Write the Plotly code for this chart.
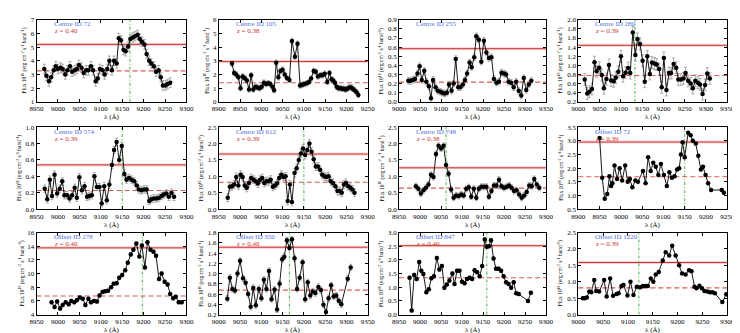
import plotly.graph_objects as go
from plotly.subplots import make_subplots

# ---- values ----
wave_c72 = [8968, 8973, 8979, 8984, 8990, 8995, 9000, 9006, 9011, 9017, 9022, 9028, 9033, 9039, 9044,
            9049, 9055, 9060, 9066, 9071, 9077, 9082, 9088, 9093, 9098, 9104, 9109, 9115, 9120, 9126,
            9131, 9137, 9142, 9147, 9153, 9158, 9164, 9169, 9175, 9180, 9186, 9191, 9196, 9202, 9207,
            9213, 9218, 9224, 9229, 9235, 9240, 9245, 9251, 9256, 9262]
flux_c72 = [3.4, 2.9, 2.5, 2.8, 3.3, 3.6, 3.4, 3.5, 3.4, 3.0, 3.3, 3.6, 3.2, 3.3, 3.4,
            3.7, 3.5, 3.1, 3.3, 3.3, 3.6, 3.3, 2.5, 2.7, 3.4, 3.3, 3.0, 3.4, 4.0, 3.3,
            4.0, 3.8, 5.65, 5.5, 4.8, 4.7, 5.05, 5.6, 5.7, 5.8, 5.9, 5.6, 5.4, 5.2, 4.5,
            4.0, 3.8, 3.6, 3.2, 3.3, 2.8, 2.2, 2.2, 2.3, 2.4]

wave_c105 = [8931, 8936, 8941, 8946, 8951, 8956, 8961, 8966, 8971, 8976, 8981, 8986, 8991, 8996, 9001,
             9006, 9011, 9016, 9021, 9026, 9030, 9035, 9040, 9045, 9050, 9055, 9060, 9066, 9072, 9079,
             9085, 9091, 9096, 9101, 9107, 9112, 9117, 9123, 9128, 9133, 9139, 9144, 9149, 9155, 9160,
             9165, 9169, 9173, 9177, 9181, 9186, 9190, 9194, 9198, 9202, 9207, 9211, 9215, 9219, 9224, 9228]
flux_c105 = [2.8, 2.1, 2.0, 1.8, 1.0, 1.85, 1.75, 1.55, 0.9, 1.95, 0.9, 1.1, 1.05, 1.0, 1.1,
             1.4, 1.3, 1.35, 1.3, 1.1, 0.85, 2.85, 1.8, 2.25, 2.35, 2.0, 1.75, 1.6, 4.45, 3.3,
             4.25, 1.2, 1.25, 1.3, 1.35, 1.45, 1.7, 2.25, 2.2, 1.85, 1.95, 1.95, 2.05, 1.45, 2.1,
             1.65, 1.55, 1.4, 1.1, 1.0, 1.0, 0.95, 0.95, 0.9, 0.95, 1.05, 1.05, 0.95, 0.85, 0.7, 0.5]

wave_c255 = [9022, 9027, 9033, 9038, 9044, 9049, 9054, 9060, 9065, 9071, 9076, 9081, 9087, 9092, 9098,
             9103, 9108, 9114, 9119, 9125, 9130, 9135, 9141, 9146, 9152, 9157, 9162, 9168, 9173, 9179,
             9184, 9190, 9196, 9202, 9208, 9214, 9220, 9226, 9232, 9238, 9244, 9250, 9255, 9261, 9267,
             9273, 9279, 9285, 9291, 9297, 9303, 9309, 9315]
flux_c255 = [0.23, 0.23, 0.24, 0.25, 0.31, 0.39, 0.24, 0.34, 0.22, 0.17, 0.04, 0.24, 0.16, 0.12, 0.11,
             0.10, 0.09, 0.10, 0.19, 0.12, 0.20, 0.47, 0.16, 0.16, 0.19, 0.24, 0.31, 0.43, 0.38, 0.49,
             0.72, 0.68, 0.44, 0.67, 0.54, 0.48, 0.49, 0.25, 0.21, 0.22, 0.32, 0.31, 0.30, 0.22, 0.21,
             0.16, 0.22, 0.12, 0.07, 0.26, 0.13, 0.19, 0.23]

wave_c280 = [9015, 9021, 9026, 9032, 9038, 9043, 9049, 9055, 9060, 9066, 9072, 9077, 9083, 9088, 9094,
             9100, 9105, 9111, 9117, 9122, 9128, 9134, 9139, 9145, 9151, 9156, 9162, 9168, 9173, 9179,
             9184, 9190, 9196, 9201, 9207, 9213, 9218, 9224, 9230, 9235, 9241, 9247, 9252, 9258, 9264,
             9269, 9275, 9281, 9286, 9292, 9298, 9303, 9309]
flux_c280 = [0.69, 0.38, 0.42, 0.48, 1.07, 0.87, 0.95, 0.79, 0.50, 0.70, 1.01, 0.67, 0.65, 0.73, 0.86,
             1.20, 0.76, 0.84, 0.94, 0.83, 1.72, 1.23, 1.58, 1.47, 1.10, 0.64, 1.20, 0.81, 1.06, 1.04,
             1.02, 0.92, 0.52, 1.16, 0.46, 0.83, 0.83, 1.03, 0.95, 0.69, 0.69, 0.71, 0.83, 0.66, 0.60,
             0.50, 0.66, 0.62, 0.58, 0.37, 0.57, 0.82, 0.71]

wave_c574 = [8969, 8975, 8981, 8986, 8992, 8998, 9004, 9010, 9015, 9021, 9027, 9033, 9039, 9044, 9050,
             9056, 9062, 9068, 9073, 9079, 9085, 9091, 9097, 9102, 9108, 9114, 9120, 9126, 9131, 9137,
             9143, 9149, 9155, 9160, 9166, 9172, 9178, 9184, 9189, 9195, 9201, 9207, 9213, 9218, 9224,
             9230, 9236, 9242, 9247, 9253, 9259, 9265, 9271]
flux_c574 = [0.25, 0.12, 0.36, 0.16, 0.42, 0.19, 0.25, 0.34, 0.17, 0.17, 0.13, 0.17, 0.26, 0.14, 0.39,
             0.23, 0.28, 0.15, 0.16, 0.17, 0.40, 0.27, 0.27, 0.07, 0.28, 0.11, 0.30, 0.54, 0.72, 0.82,
             0.60, 0.77, 0.43, 0.36, 0.38, 0.36, 0.34, 0.29, 0.24, 0.23, 0.24, 0.24, 0.10, 0.12, 0.13,
             0.13, 0.14, 0.16, 0.18, 0.19, 0.15, 0.20, 0.15]

wave_c612 = [8971, 8976, 8981, 8986, 8991, 8996, 9001, 9006, 9011, 9016, 9021, 9026, 9032, 9037, 9042,
             9047, 9052, 9057, 9062, 9067, 9072, 9077, 9082, 9087, 9092, 9097, 9102, 9107, 9112, 9117,
             9122, 9128, 9133, 9138, 9143, 9148, 9153, 9158, 9163, 9168, 9173, 9178, 9183, 9188, 9193,
             9198, 9203, 9208, 9213, 9218, 9224, 9229, 9234, 9239, 9244, 9249, 9254, 9259, 9264, 9269]
flux_c612 = [0.35, 0.68, 0.70, 0.75, 0.98, 0.72, 1.05, 0.98, 0.72, 0.65, 0.80, 0.95, 0.90, 0.85, 0.78,
             0.90, 0.95, 0.80, 0.85, 0.85, 0.90, 0.68, 0.72, 0.78, 0.95, 1.05, 0.98, 1.00, 0.25, 0.75,
             0.22, 1.10, 1.25, 1.50, 1.70, 1.85, 1.65, 1.80, 2.00, 1.75, 1.52, 1.30, 1.30, 1.20, 1.05,
             1.00, 0.98, 1.00, 0.85, 0.80, 0.70, 0.55, 0.55, 0.50, 0.75, 0.80, 0.70, 0.65, 0.60, 0.50]

wave_c748 = [8990, 8996, 9002, 9008, 9014, 9020, 9026, 9032, 9038, 9044, 9050, 9056, 9062, 9068, 9074,
             9080, 9086, 9092, 9098, 9104, 9110, 9116, 9122, 9128, 9134, 9140, 9146, 9152, 9158, 9164,
             9170, 9176, 9182, 9188, 9194, 9200, 9206, 9212, 9218, 9224, 9230, 9236, 9242, 9248, 9254,
             9260, 9266, 9272, 9278, 9284]
flux_c748 = [0.70, 0.62, 0.48, 0.58, 0.65, 0.75, 1.05, 0.98, 1.68, 1.93, 1.85, 1.93, 1.35, 1.08, 0.60,
             0.35, 0.42, 0.40, 0.45, 0.42, 0.62, 0.67, 0.38, 0.62, 0.35, 0.62, 0.68, 0.68, 0.68, 0.38,
             0.55, 0.72, 0.72, 0.90, 0.70, 0.65, 0.68, 0.72, 0.65, 0.55, 0.58, 0.45, 0.35, 0.42, 0.52,
             0.72, 0.70, 0.92, 0.75, 0.65]

wave_o72 = [8950, 8956, 8962, 8968, 8973, 8977, 8980, 8985, 8991, 8997, 9003, 9010, 9016, 9021, 9027,
            9034, 9040, 9052, 9058, 9064, 9070, 9076, 9082, 9088, 9094, 9101, 9108, 9114, 9120, 9126,
            9132, 9137, 9141, 9145, 9150, 9158, 9164, 9169, 9176, 9182, 9188, 9193, 9199, 9205, 9212,
            9237, 9242]
flux_o72 = [3.1, 1.65, 0.88, 1.05, 1.7, 1.35, 1.45, 2.1, 1.6, 2.0, 1.55, 2.1, 1.5, 1.6, 1.3,
            1.55, 1.5, 1.9, 1.45, 2.4, 1.9, 2.2, 2.05, 1.75, 2.15, 1.75, 1.35, 1.85, 1.65, 1.7,
            1.95, 2.0, 2.5, 2.95, 2.4, 3.3, 3.2, 3.0, 2.9, 2.45, 1.95, 2.05, 1.75, 1.45, 1.2,
            1.2, 1.1]

wave_o278 = [8985, 8992, 8998, 9005, 9011, 9018, 9025, 9031, 9038, 9044, 9051, 9058, 9064, 9071, 9077,
             9084, 9091, 9097, 9104, 9110, 9117, 9124, 9130, 9137, 9143, 9150, 9157, 9163, 9170, 9176,
             9183, 9190, 9196, 9203, 9209, 9216, 9223, 9229, 9236, 9242, 9249, 9256, 9262, 9269, 9275,
             9282, 9289]
flux_o278 = [5.8, 5.1, 5.9, 4.9, 5.4, 5.8, 5.5, 6.0, 5.8, 6.1, 6.5, 6.3, 5.4, 6.3, 5.8,
             6.0, 5.9, 6.8, 7.3, 7.4, 7.5, 8.0, 8.5, 8.6, 9.4, 9.8, 10.5, 11.6, 12.8, 13.5,
             14.4, 12.5, 14.1, 10.9, 14.6, 13.5, 13.2, 12.6, 9.2, 10.0, 8.8, 8.4, 7.0, 6.4, 6.6,
             5.8, 5.8]

wave_o350 = [9020, 9026, 9032, 9038, 9044, 9050, 9057, 9063, 9069, 9075, 9081, 9087, 9094, 9100, 9106,
             9112, 9118, 9124, 9131, 9137, 9143, 9149, 9154, 9160, 9166, 9172, 9178, 9184, 9190, 9197,
             9203, 9209, 9215, 9221, 9227, 9234, 9240, 9246, 9252, 9258, 9264, 9270, 9276, 9282, 9288,
             9303, 9310]
flux_o350 = [0.51, 0.92, 0.70, 0.67, 1.00, 1.25, 0.91, 0.82, 0.60, 0.35, 0.72, 0.38, 0.70, 0.52, 0.88,
             0.70, 1.05, 0.50, 0.69, 0.30, 0.80, 1.28, 1.33, 1.65, 1.50, 1.67, 1.30, 0.70, 0.92, 1.22,
             0.50, 0.83, 0.57, 0.65, 0.62, 0.74, 0.68, 0.39, 0.25, 0.52, 0.77, 0.55, 0.57, 0.47, 0.40,
             0.90, 1.12]

wave_o847 = [8975, 8980, 8986, 8992, 8998, 9003, 9008, 9015, 9021, 9027, 9033, 9040, 9046, 9052, 9058,
             9064, 9070, 9077, 9082, 9088, 9094, 9100, 9106, 9112, 9118, 9124, 9130, 9136, 9142, 9148,
             9154, 9159, 9164, 9169, 9175, 9181, 9187, 9193, 9199, 9205, 9211, 9217, 9223, 9229, 9235,
             9257, 9264]
flux_o847 = [1.35, 0.15, 1.45, 1.30, 1.92, 1.60, 1.48, 0.82, 0.93, 1.33, 1.40, 2.07, 1.65, 1.78, 0.98,
             1.10, 1.25, 1.50, 1.12, 1.60, 1.60, 1.20, 1.15, 1.30, 1.35, 1.30, 1.62, 1.55, 1.40, 1.78,
             2.75, 2.48, 2.50, 2.72, 2.05, 1.68, 1.68, 1.60, 1.40, 1.18, 1.12, 0.98, 1.18, 0.78, 0.75,
             0.50, 0.80]

wave_o1220 = [9009, 9013, 9017, 9022, 9026, 9032, 9036, 9042, 9052, 9057, 9064, 9070, 9077, 9081, 9087,
              9091, 9099, 9105, 9111, 9118, 9125, 9130, 9135, 9140, 9146, 9151, 9156, 9162, 9170, 9176,
              9183, 9189, 9196, 9203, 9209, 9216, 9223, 9228, 9234, 9238, 9244, 9249, 9254, 9260, 9265,
              9270, 9275, 9290, 9298]
flux_o1220 = [0.50, 0.50, 0.52, 0.70, 0.68, 1.05, 0.72, 0.70, 1.05, 0.55, 1.10, 0.57, 0.63, 0.65, 0.87,
              0.90, 0.58, 1.00, 0.60, 0.85, 0.83, 0.87, 0.87, 0.87, 1.10, 1.00, 1.22, 1.30, 1.65, 1.90,
              1.80, 2.10, 1.80, 1.50, 1.25, 1.22, 1.35, 1.32, 0.85, 0.80, 0.88, 0.80, 0.72, 0.70, 0.68,
              0.68, 0.65, 0.38, 0.62]

names = ["Centre ID 72", "Centre ID 105", "Centre ID 255", "Centre ID 280",
         "Centre ID 574", "Centre ID 612", "Centre ID 748", "Offset ID 72",
         "Offset ID 278", "Offset ID 350", "Offset ID 847", "Offset ID 1220"]
redshifts = ["0.40", "0.38", None, "0.39", "0.39", "0.39", "0.38", "0.39",
             "0.40", "0.40", "0.40", "0.39"]
upper_level = [5.2, 2.95, 0.583, 1.44, 0.54, 1.68, 1.26, 2.955, 13.76, 1.514, 2.52, 1.587]
lower_level = [3.26, 1.39, 0.216, 0.776, 0.228, 0.82, 0.64, 1.686, 6.71, 0.676, 1.345, 0.813]
line_centre = [9168, None, None, 9133, 9150, 9150, 9062, 9150, 9197, 9166, 9159, 9122]
flux_err = [0.35, 0.2, 0.035, 0.13, 0.045, 0.12, 0.09, 0, 0.25, 0.06, 0.06, 0]

spectra = [(wave_c72, flux_c72), (wave_c105, flux_c105), (wave_c255, flux_c255), (wave_c280, flux_c280),
           (wave_c574, flux_c574), (wave_c612, flux_c612), (wave_c748, flux_c748), (wave_o72, flux_o72),
           (wave_o278, flux_o278), (wave_o350, flux_o350), (wave_o847, flux_o847), (wave_o1220, flux_o1220)]

x_ranges = [(8950, 9300), (8900, 9250), (9000, 9350), (9000, 9350),
            (8950, 9300), (8950, 9300), (8950, 9300), (8900, 9250),
            (8950, 9300), (9000, 9350), (8950, 9300), (9000, 9300)]
y_ranges = [(1, 7), (0, 6), (0, 0.9), (0.2, 2.0),
            (0, 1.0), (0, 2.5), (0, 2.5), (0.5, 3.5),
            (4, 16), (0.2, 1.8), (0, 3.0), (0, 2.5)]
y_steps = [1, 1, 0.1, 0.2, 0.2, 0.5, 0.5, 0.5, 2, 0.2, 0.5, 0.5]

# ---- layout in pixels (740 x 333 page) ----
W, H = 740, 333
cols_px = [(22, 175), (208, 360), (392, 542), (575, 727)]
rows_px = [(8, 92), (118, 202), (226, 310)]

serif = "Liberation Serif"
blue = "#4f6fe0"
red = "#cc3333"

fig = make_subplots(rows=3, cols=4)

for k, (wave, flux) in enumerate(spectra):
    r, c = divmod(k, 4)
    n = k + 1
    xa = "x" if n == 1 else f"x{n}"
    ya = "y" if n == 1 else f"y{n}"
    x0p, x1p = cols_px[c]
    y0p, y1p = rows_px[r]
    xdom = [x0p / W, x1p / W]
    ydom = [1 - y1p / H, 1 - y0p / H]

    fig.add_trace(go.Scatter(
        x=wave, y=flux, mode="lines+markers",
        line=dict(color="black", width=0.9),
        marker=dict(color="black", size=4.5),
        error_y=dict(type="constant", value=flux_err[k], visible=flux_err[k] > 0,
                     color="#999999", thickness=0.8, width=1.5),
        showlegend=False), row=r + 1, col=c + 1)

    ax = dict(showgrid=False, zeroline=False, showline=True, linecolor="black", linewidth=1,
              mirror="allticks", ticks="inside", ticklen=3, tickcolor="black",
              tickfont=dict(family=serif, size=7, color="black"))
    fig.layout[f"xaxis{n}"].update(domain=xdom, range=list(x_ranges[k]), dtick=50, tick0=8900, **ax)
    fig.layout[f"yaxis{n}"].update(domain=ydom, range=list(y_ranges[k]), dtick=y_steps[k],
                                   tick0=0, tickformat=".0f" if y_steps[k] >= 1 else ".1f", **ax)

    # upper level: solid red line with a pale halo
    fig.add_shape(type="line", xref=f"{xa} domain", yref=ya, x0=0, x1=1,
                  y0=upper_level[k], y1=upper_level[k],
                  line=dict(color="rgba(225,110,110,0.3)", width=3), layer="below")
    fig.add_shape(type="line", xref=f"{xa} domain", yref=ya, x0=0, x1=1,
                  y0=upper_level[k], y1=upper_level[k],
                  line=dict(color=red, width=1), layer="below")
    # lower level: dashed
    fig.add_shape(type="line", xref=f"{xa} domain", yref=ya, x0=0, x1=1,
                  y0=lower_level[k], y1=lower_level[k],
                  line=dict(color="rgba(210,60,60,0.85)", width=1.1, dash="5px,3px"), layer="below")
    if line_centre[k]:
        fig.add_shape(type="line", xref=xa, yref=f"{ya} domain", x0=line_centre[k], x1=line_centre[k],
                      y0=0, y1=1, line=dict(color="#33aa33", width=0.9, dash="3px,2px,1px,2px"),
                      layer="below")

    fig.add_annotation(xref=f"{xa} domain", yref=f"{ya} domain", x=0.1, y=0.945,
                       xanchor="left", yanchor="middle", showarrow=False, text=names[k],
                       font=dict(family=serif, size=7, color=blue))
    if redshifts[k]:
        fig.add_annotation(xref=f"{xa} domain", yref=f"{ya} domain", x=0.1, y=0.86,
                           xanchor="left", yanchor="middle", showarrow=False,
                           text=f"<i>z</i> = {redshifts[k]}",
                           font=dict(family=serif, size=7, color=red))

    # y title sits further out when tick labels carry decimals
    if y_steps[k] < 1:
        off = 18
    elif y_ranges[k][1] >= 10:
        off = 15
    else:
        off = 12
    fig.add_annotation(xref="paper", yref="paper", x=(x0p - off) / W, y=(ydom[0] + ydom[1]) / 2,
                       xanchor="center", yanchor="middle", textangle=-90, showarrow=False,
                       text="Flux 10<sup>16</sup> (erg cm<sup>-2</sup> s<sup>-1</sup> band<sup>-1</sup>)",
                       font=dict(family=serif, size=5.5, color="black"))
    fig.add_annotation(xref="paper", yref="paper", x=(x0p + x1p) / 2 / W, y=1 - (y1p + 16) / H,
                       xanchor="center", yanchor="middle", showarrow=False, text="λ (Å)",
                       font=dict(family=serif, size=7, color="black"))

fig.update_layout(width=W, height=H, margin=dict(l=0, r=0, t=0, b=0),
                  paper_bgcolor="white", plot_bgcolor="white")

fig.write_html("out.html")
